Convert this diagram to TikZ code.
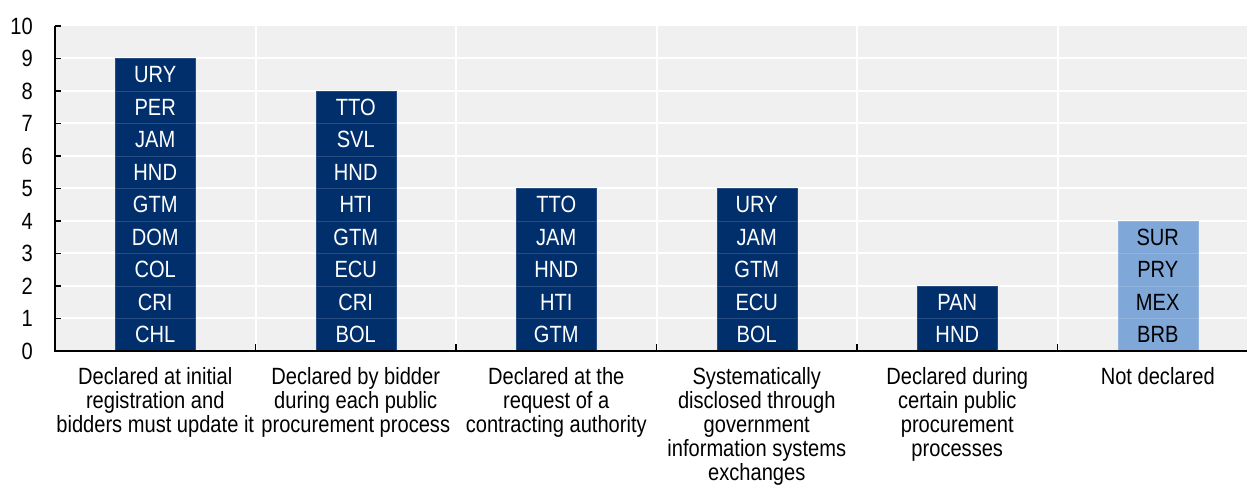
\documentclass[tikz,border=0pt]{standalone}
\usepackage{fontspec}
\setmainfont[FakeStretch=0.855]{Liberation Sans}
\definecolor{navy}{HTML}{002F6C}
\definecolor{lightb}{HTML}{7FA8D9}
\definecolor{plotbg}{HTML}{F0F0F0}
\begin{document}
\begin{tikzpicture}[x=1pt,y=1pt,
  lbl/.style={font=\fontsize{23.5}{24}\selectfont, inner sep=0pt},
  seg/.style={lbl, minimum width=80pt, minimum height=32.5pt, fill=navy, draw=navy!85!white, line width=0.4pt, text=white},
  segl/.style={seg, fill=lightb, draw=lightb!85!white, text=black},
  grid/.style={white, line width=2pt},
  axis/.style={black, line width=1.5pt},
  cat/.style={lbl, align=center, anchor=north}]
\useasboundingbox (0,0) rectangle (1247,497);
% plot background
\fill[plotbg] (55,146) rectangle (1247,471);
\foreach \v in {1,...,9} \draw[grid] (55,146+32.5*\v) -- (1247,146+32.5*\v);
\foreach \i in {1,...,5} \draw[grid] (55+200.5*\i,146) -- (55+200.5*\i,471);
% bars
\foreach \lab [count=\k] in {CHL,CRI,COL,DOM,GTM,HND,JAM,PER,URY}
  \node[seg] (a\k) at (155.25,146+32.5*\k-16.25) {\lab};
\foreach \lab [count=\k] in {BOL,CRI,ECU,GTM,HTI,HND,SVL,TTO}
  \node[seg] (b\k) at (355.75,146+32.5*\k-16.25) {\lab};
\foreach \lab [count=\k] in {GTM,HTI,HND,JAM,TTO}
  \node[seg] (c\k) at (556.25,146+32.5*\k-16.25) {\lab};
\foreach \lab [count=\k] in {BOL,ECU,GTM,JAM,URY}
  \node[seg] (d\k) at (756.75,146+32.5*\k-16.25) {\lab};
\foreach \lab [count=\k] in {HND,PAN}
  \node[seg] (e\k) at (957.25,146+32.5*\k-16.25) {\lab};
\foreach \lab [count=\k] in {BRB,MEX,PRY,SUR}
  \node[segl] (f\k) at (1157.75,146+32.5*\k-16.25) {\lab};
% axes
\draw[axis] (55,471) -- (55,146) -- (1247,146);
\foreach \v in {0,...,10} {
  \draw[axis] (55,146+32.5*\v) -- (61,146+32.5*\v);
  \node[lbl, anchor=east] (y\v) at (33,146+32.5*\v) {\v};
}
\foreach \i in {1,...,5} \draw[axis] (55+200.5*\i,146) -- (55+200.5*\i,153);
% category labels
\node[cat] (l1) at (155.25,130) {Declared at initial\\registration and\\bidders must update it};
\node[cat] (l2) at (355.75,130) {Declared by bidder\\during each public\\procurement process};
\node[cat] (l3) at (556.25,130) {Declared at the\\request of a\\contracting authority};
\node[cat] (l4) at (756.75,130) {Systematically\\disclosed through\\government\\information systems\\exchanges};
\node[cat] (l5) at (957.25,130) {Declared during\\certain public\\procurement\\processes};
\node[cat] (l6) at (1157.75,130) {Not declared};
\end{tikzpicture}
\end{document}
